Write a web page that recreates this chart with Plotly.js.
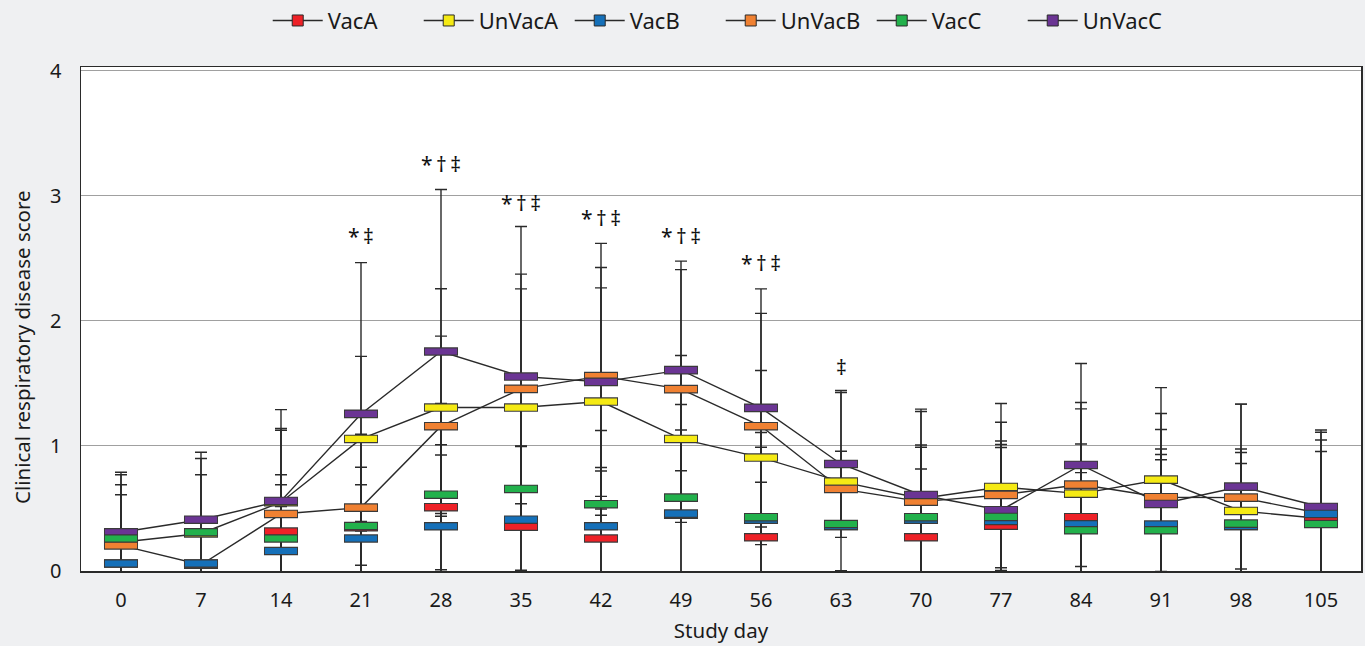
<!DOCTYPE html>
<html>
<head>
<meta charset="utf-8">
<script src="https://cdn.plot.ly/plotly-3.0.1.min.js"></script>
<style>
  html, body { margin: 0; padding: 0; background: #eff0f2; }
  #chart { width: 1365px; height: 646px; }
</style>
</head>
<body>
<div id="chart"></div>
<script>
// ---- data ----
const days = [0, 7, 14, 21, 28, 35, 42, 49, 56, 63, 70, 77, 84, 91, 98, 105];
const seriesNames = ["VacA", "UnVacA", "VacB", "UnVacB", "VacC", "UnVacC"];

const vacA      = [0.06, 0.06, 0.315, 0.35, 0.51, 0.355, 0.26, 0.45, 0.27, 0.36, 0.27, 0.363, 0.43, 0.33, 0.36, 0.416];
const vacA_sd   = [0.02, 0.02, 0.455, 0.03, 0.50, 0.64, 0.54, 0.02, 0.44, 0.02, 0.02, 0.02, 0.586, 0.56, 0.02, 0.02];

const unVacA    = [0.23, 0.30, 0.55, 1.056, 1.307, 1.307, 1.355, 1.056, 0.907, 0.715, 0.58, 0.672, 0.619, 0.731, 0.48, 0.42];
const unVacA_sd = [0.54, 0.60, 0.74, 0.66, 0.95, 0.949, 0.909, 0.667, 0.696, 0.712, 0.695, 0.667, 0.677, 0.735, 0.496, 0.628];

const vacB      = [0.06, 0.06, 0.16, 0.26, 0.358, 0.41, 0.358, 0.459, 0.41, 0.36, 0.41, 0.40, 0.374, 0.371, 0.36, 0.456];
const vacB_sd   = [0.02, 0.02, 0.355, 0.43, 0.57, 0.59, 0.47, 0.669, 0.58, 0.02, 0.58, 0.587, 0.413, 0.605, 0.50, 0.50];

const unVacB    = [0.205, 0.05, 0.456, 0.507, 1.158, 1.456, 1.558, 1.454, 1.158, 0.656, 0.555, 0.608, 0.691, 0.59, 0.587, 0.46];
const unVacB_sd = [0.405, 0.02, 0.67, 0.587, 0.72, 0.918, 1.062, 1.024, 0.902, 0.302, 0.26, 0.582, 0.656, 0.669, 0.747, 0.65];

const vacC      = [0.26, 0.31, 0.26, 0.36, 0.61, 0.656, 0.534, 0.587, 0.43, 0.376, 0.43, 0.432, 0.326, 0.326, 0.379, 0.376];
const vacC_sd   = [0.43, 0.46, 0.43, 0.47, 0.73, 0.65, 0.59, 0.744, 0.677, 0.02, 0.578, 0.58, 0.02, 0.605, 0.568, 0.02];

const unVacC    = [0.31, 0.41, 0.56, 1.256, 1.755, 1.555, 1.512, 1.606, 1.304, 0.856, 0.608, 0.486, 0.848, 0.536, 0.675, 0.512];
const unVacC_sd = [0.48, 0.54, 0.58, 1.21, 1.295, 1.20, 0.915, 0.804, 0.952, 0.587, 0.686, 0.554, 0.811, 0.595, 0.659, 0.616];

// significance markers
const sigDays   = [21, 28, 35, 42, 49, 56, 63];
const sigLabels = ["*\u2009‡", "*\u2009†\u2009‡", "*\u2009†\u2009‡", "*\u2009†\u2009‡", "*\u2009†\u2009‡", "*\u2009†\u2009‡", "‡"];
const sigY      = [2.675, 3.254, 2.94, 2.82, 2.675, 2.46, 1.63];

const yTicks = [0, 1, 2, 3, 4];
const yTitle = "Clinical respiratory disease score";
const xTitle = "Study day";

// ---- styling ----
const colors = {VacA: "#ee2127", UnVacA: "#f5ea14", VacB: "#1570b9", UnVacB: "#f08132", VacC: "#22b14c", UnVacC: "#6b3594"};
const values = {VacA: vacA, UnVacA: unVacA, VacB: vacB, UnVacB: unVacB, VacC: vacC, UnVacC: unVacC};
const sds = {VacA: vacA_sd, UnVacA: unVacA_sd, VacB: vacB_sd, UnVacB: unVacB_sd, VacC: vacC_sd, UnVacC: unVacC_sd};
const withLine = ["UnVacA", "UnVacB", "UnVacC"];
const drawOrder = ["UnVacA", "UnVacB", "UnVacC", "VacA", "VacB", "VacC"];
const FONT = "Noto Sans, Open Sans, sans-serif";
const dark = "#2a2a2a";
const txt = "#1a1a1a";

const traces = [];

// error bars (whiskers)
seriesNames.forEach(n => {
  traces.push({
    type: "scatter", mode: "markers", x: days, y: values[n],
    marker: {size: 1, color: "rgba(0,0,0,0)"},
    error_y: {type: "data", array: sds[n], symmetric: true, color: dark, thickness: 1.4, width: 6},
    showlegend: false, hoverinfo: "skip"
  });
});

// connecting lines for unvaccinated groups
withLine.forEach(n => {
  traces.push({
    type: "scatter", mode: "lines", x: days, y: values[n],
    line: {color: dark, width: 1.4},
    showlegend: false, hoverinfo: "skip"
  });
});

// rectangular markers (border + fill)
drawOrder.forEach(n => {
  traces.push({
    type: "scatter", mode: "markers", x: days, y: values[n],
    marker: {symbol: "line-ew", size: 24.3, color: "#3a3a3a", line: {color: "#3a3a3a", width: 8.6}},
    showlegend: false, hoverinfo: "skip"
  });
  traces.push({
    type: "scatter", mode: "markers", x: days, y: values[n], name: n,
    marker: {symbol: "line-ew", size: 22.9, color: colors[n], line: {color: colors[n], width: 6.2}},
    showlegend: false
  });
});

// legend entries
seriesNames.forEach(n => {
  traces.push({
    type: "scatter", mode: "lines+markers", x: [days[0]], y: [null], name: n,
    line: {color: dark, width: 1.5},
    marker: {symbol: "square", size: 11, color: colors[n], line: {color: dark, width: 1}},
    showlegend: true
  });
});

const annotations = sigDays.map((d, i) => ({
  x: d, y: sigY[i], xref: "x", yref: "y", text: sigLabels[i], showarrow: false,
  font: {family: FONT, size: 21, color: "#111"}, xanchor: "center", yanchor: "middle"
}));
annotations.push({
  x: -0.0463, y: 0.444, xref: "paper", yref: "paper", text: yTitle, textangle: -90,
  showarrow: false, xanchor: "center", yanchor: "middle",
  font: {family: FONT, size: 20.5, color: txt}
});

const layout = {
  width: 1365, height: 646,
  paper_bgcolor: "#eff0f2", plot_bgcolor: "#ffffff",
  margin: {l: 81, r: 4, t: 67, b: 75},
  font: {family: FONT, size: 20, color: txt},
  showlegend: true,
  legend: {
    orientation: "h", x: 0.528, xanchor: "center", y: 0.968, yanchor: "middle",
    xref: "container", yref: "container",
    font: {family: FONT, size: 22, color: txt},
    bgcolor: "rgba(0,0,0,0)", itemwidth: 50,
    entrywidth: 86, entrywidthmode: "pixels"
  },
  xaxis: {
    range: [-3.5, 108.5], tickvals: days, ticktext: days.map(String),
    showgrid: false, zeroline: false, ticks: "",
    showline: true, linecolor: dark, linewidth: 1.5, mirror: true,
    ticklabelstandoff: 10,
    tickfont: {family: FONT, size: 20, color: txt},
    title: {text: xTitle, font: {family: FONT, size: 20.5, color: txt}, standoff: 12}
  },
  yaxis: {
    range: [0, 4.03], tickvals: yTicks, ticktext: yTicks.map(String),
    showgrid: true, gridcolor: "#a0a0a0", gridwidth: 1, zeroline: false, ticks: "",
    showline: true, linecolor: dark, linewidth: 1.5, mirror: true,
    ticklabelstandoff: 14,
    tickfont: {family: FONT, size: 20, color: txt}
  },
  annotations: annotations
};

Plotly.newPlot("chart", traces, layout, {displayModeBar: false, staticPlot: true});
</script>
</body>
</html>
